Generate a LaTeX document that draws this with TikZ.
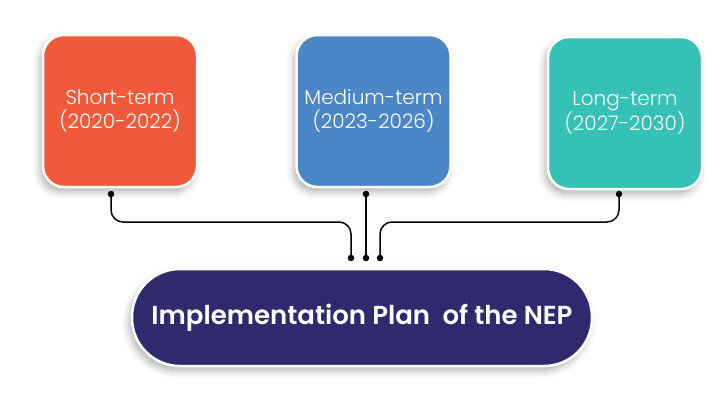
\documentclass[tikz,border=0pt]{standalone}
\usepackage{fontspec}
\setmainfont{Poppins}
\newfontfamily\poplight{Poppins Light}
\newfontfamily\popsemi{Poppins SemiBold}
\usetikzlibrary{shadows.blur}
\definecolor{cOrange}{HTML}{F05A3B}
\definecolor{cBlue}{HTML}{4B86C6}
\definecolor{cTeal}{HTML}{35C1B5}
\definecolor{cNavy}{HTML}{2F2A6E}
\begin{document}
\begin{tikzpicture}[x=1pt,y=-1pt,
  termbox/.style={rounded corners=21pt, draw=white, line width=2.5pt,
    minimum width=154pt, minimum height=152pt, inner sep=0pt,
    text=white, font=\poplight\fontsize{20}{24}\selectfont, align=center,
    blur shadow={shadow xshift=-3pt, shadow yshift=-5pt, shadow blur radius=7pt, shadow opacity=30}},
  planbox/.style={rounded corners=48pt, draw=white, line width=2.5pt,
    minimum width=460pt, minimum height=97pt, inner sep=0pt,
    text=white, font=\popsemi\fontsize{26}{30}\selectfont,
    blur shadow={shadow xshift=-3pt, shadow yshift=-5pt, shadow blur radius=7pt, shadow opacity=30}},
  wire/.style={line width=1.5pt, black, rounded corners=12pt},
  dot/.style={circle, fill=black, inner sep=0pt, minimum size=6.5pt}]
\useasboundingbox (0,0) rectangle (720,418);

\node[termbox, fill=cOrange] (short) at (120,111) {Short-term\\(2020-2022)};
\node[termbox, fill=cBlue]   (medium) at (373.5,111) {Medium-term\\(2023-2026)};
\node[termbox, fill=cTeal]   (long) at (625,113) {Long-term\\(2027-2030)};
\node[planbox, fill=cNavy]   (plan) at (362,317.5) {\raisebox{3pt}{Implementation Plan\ \ of the NEP}};

\coordinate (s1) at (111,194);
\coordinate (s2) at (366,194);
\coordinate (s3) at (619,194);
\coordinate (e1) at (351,258);
\coordinate (e2) at (366,258);
\coordinate (e3) at (380,258);

\draw[wire] (s1) -- (s1 |- 0,222) -- (e1 |- 0,222) -- (e1);
\draw[wire] (s2) -- (e2);
\draw[wire] (s3) -- (s3 |- 0,222) -- (e3 |- 0,222) -- (e3);

\foreach \p in {s1,s2,s3,e1,e2,e3} \node[dot] (dot-\p) at (\p) {};
\end{tikzpicture}
\end{document}
